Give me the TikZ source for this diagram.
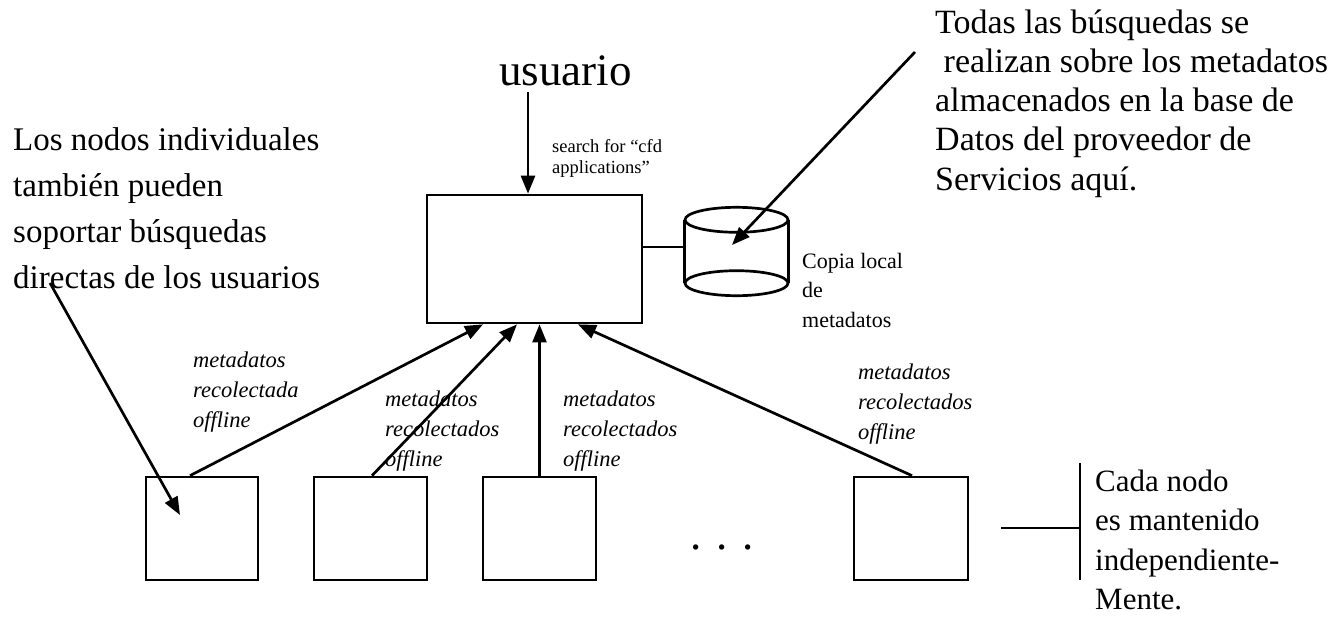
\documentclass[tikz,border=0pt]{standalone}
\usepackage{fontspec}
\setmainfont{Liberation Serif}
\usetikzlibrary{arrows.meta}
\begin{document}
\begin{tikzpicture}[x=1pt,y=-1pt,
  ln/.style={line width=2.7pt},
  arr/.style={line width=2.7pt,-{Triangle[length=18pt,width=14pt]}},
  nodebox/.style={draw,line width=2.7pt,inner sep=0,minimum width=113pt,minimum height=103pt},
  lbl/.style={anchor=base west,inner sep=0},
  bigtxt/.style={font=\fontsize{33}{46}\selectfont},
  itl/.style={font=\itshape\fontsize{22.5}{30}\selectfont}]
\useasboundingbox (0,0) rectangle (1344,616);
% main server box
\node[draw,line width=2.7pt,inner sep=0,minimum width=215pt,minimum height=128pt] (srv) at (534.5,259) {};
% user
\node[lbl,font=\fontsize{45}{45}\selectfont] (usr) at (499,85) {usuario};
\coordinate (usrpt) at (528,92);
\draw[arr] (usrpt) -- ([xshift=-6.5pt]srv.north);
\node[lbl,font=\fontsize{18.5}{21}\selectfont] (search) at (552,152) {\vtop{\hbox{search for “cfd}\hbox{applications”}}};
% database cylinder
\node[inner sep=0,minimum width=103pt,minimum height=63pt] (db) at (736.5,251.5) {};
\draw[ln] (db.north) ellipse [x radius=51.5pt,y radius=12.5pt];
\draw[ln] (db.south) ellipse [x radius=51.5pt,y radius=12.5pt];
\draw[ln] (db.north west) -- (db.south west);
\draw[ln] (db.north east) -- (db.south east);
\draw[ln] ([yshift=12pt]srv.east) -- ([yshift=4.5pt]db.west);
\node[lbl,font=\fontsize{22}{29.5}\selectfont] (copia) at (802,268) {\vtop{\hbox{Copia local}\hbox{de}\hbox{metadatos}}};
% top right note
\node[lbl,font=\fontsize{34}{39.25}\selectfont] (note) at (935,33) {\vtop{\hbox{Todas las búsquedas se}\hbox{\ realizan sobre los metadatos}\hbox{almacenados en la base de}\hbox{Datos del proveedor de}\hbox{Servicios aquí.}}};
\coordinate (ptop) at (915,52);
\draw[arr] (ptop) -- ([xshift=-4.5pt,yshift=6.5pt]db.center);
% left note
\node[lbl,bigtxt] (left) at (13,150) {\vtop{\hbox{Los nodos individuales}\hbox{también pueden}\hbox{soportar búsquedas}\hbox{directas de los usuarios}}};
% bottom nodes
\node[nodebox,minimum width=112pt] (b1) at (202,528.5) {};
\node[nodebox] (b2) at (370.5,528.5) {};
\node[nodebox] (b3) at (539.5,528.5) {};
\node[nodebox,minimum width=114pt] (b4) at (911,528.5) {};
\coordinate (pleft) at (50,283);
\draw[arr] (pleft) -- ([xshift=-22pt,yshift=13.5pt]b1.center);
\draw[arr] ([xshift=-12pt]b1.north) -- ([xshift=-51.5pt]srv.south);
\draw[arr] ([xshift=1.5pt]b2.north) -- ([xshift=-17.5pt]srv.south);
\draw[arr,line width=2.2pt] (b3.north) -- (b3.north |- srv.south);
\draw[arr] ([xshift=1pt]b4.north) -- ([xshift=43.5pt]srv.south);
\node[lbl,itl] (l1) at (193,367) {\vtop{\hbox{metadatos}\hbox{recolectada}\hbox{offline}}};
\node[lbl,itl] (l2) at (385,406) {\vtop{\hbox{metadatos}\hbox{recolectados}\hbox{offline}}};
\node[lbl,itl] (l3) at (563,406) {\vtop{\hbox{metadatos}\hbox{recolectados}\hbox{offline}}};
\node[lbl,itl] (l4) at (858,379) {\vtop{\hbox{metadatos}\hbox{recolectados}\hbox{offline}}};
\node[lbl,font=\fontsize{45}{45}\selectfont] (dots) at (690,549) {. . .};
% bracket note
\coordinate (brk) at (1080,528);
\coordinate (brkl) at (1001,528);
\coordinate (brkt) at (1080,463);
\coordinate (brkb) at (1080,580);
\draw[ln] (brkl) -- (brk);
\draw[ln] (brkt) -- (brkb);
\node[lbl,font=\fontsize{31}{39.5}\selectfont] (cada) at (1095,491) {\vtop{\hbox{Cada nodo}\hbox{es mantenido}\hbox{independiente-}\hbox{Mente.}}};
\end{tikzpicture}
\end{document}
